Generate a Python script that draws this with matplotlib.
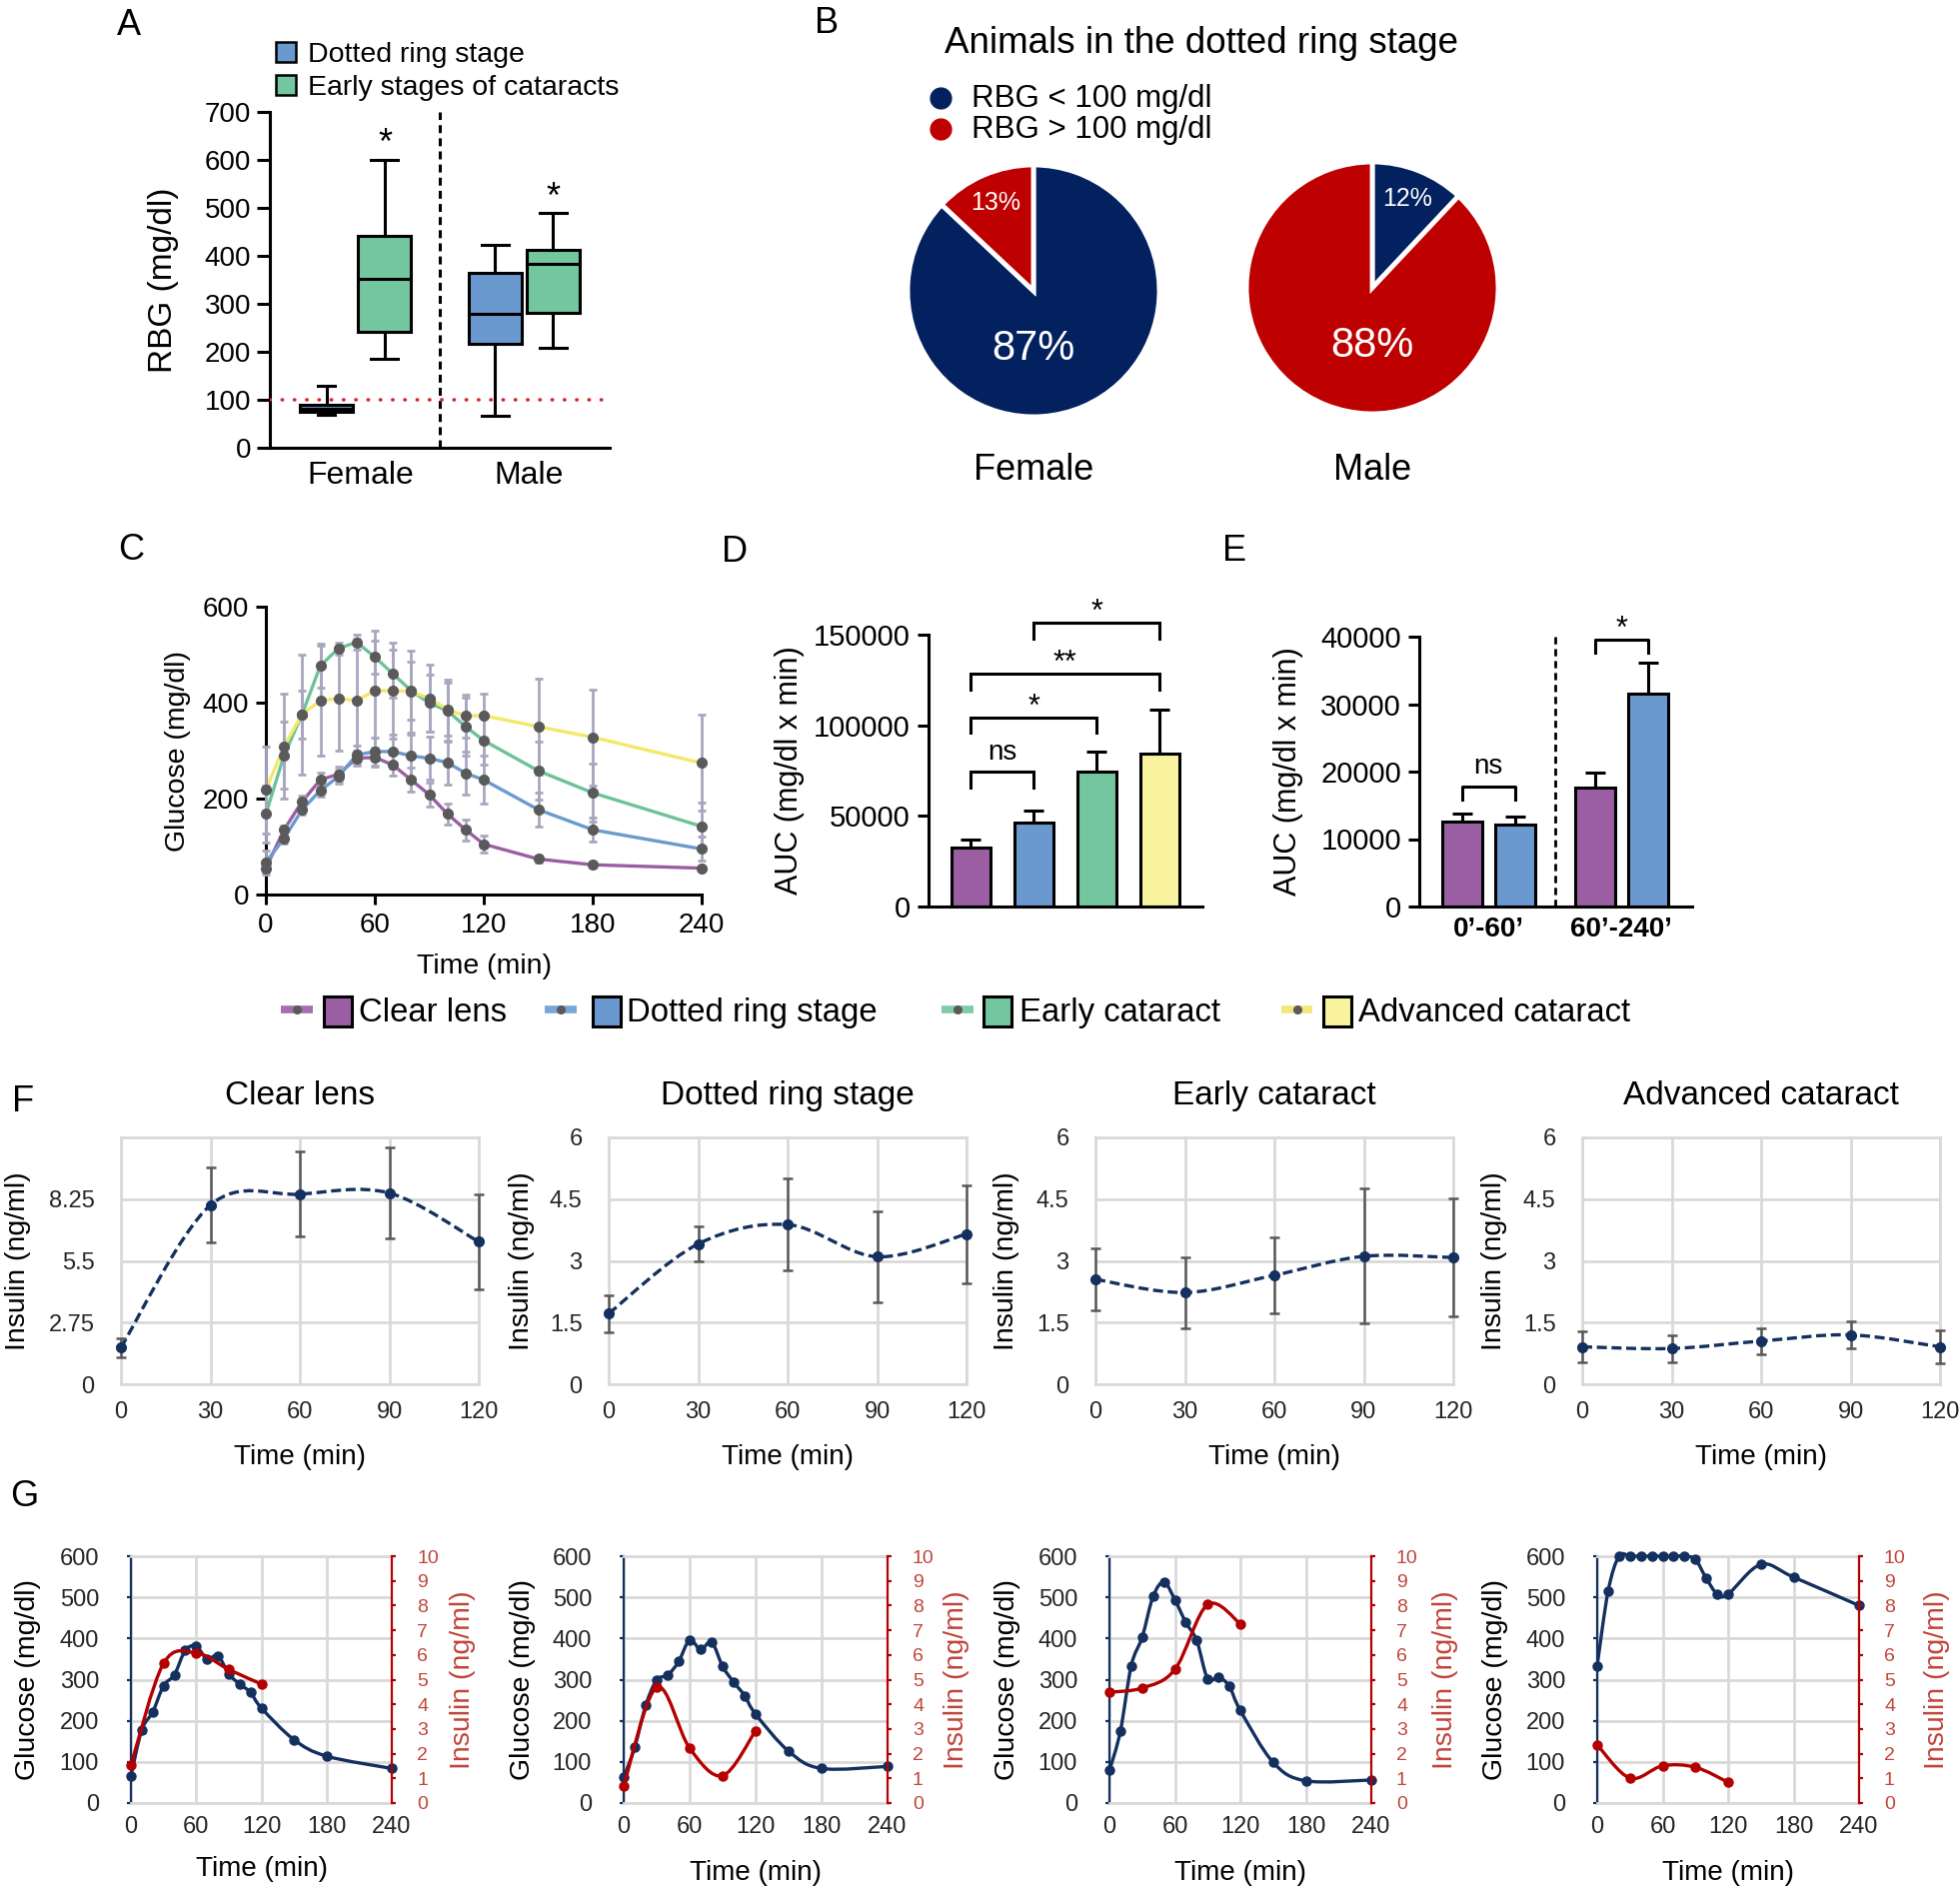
import numpy as np
import matplotlib
matplotlib.use('Agg')
import matplotlib.pyplot as plt
from matplotlib.path import Path
from matplotlib.patches import PathPatch, Rectangle

plt.rcParams['font.family'] = ['Liberation Sans', 'DejaVu Sans']

# ======================= DATA =======================
# Panel A (box order: Female-dotted, Female-early, Male-dotted, Male-early)
a_groups = ['Female', 'Male']
a_stages = ['Dotted ring stage', 'Early stages of cataracts']
a_whislo = [68, 185, 67, 208]
a_q1 = [75, 241, 216, 281]
a_med = [81, 352, 279, 383]
a_q3 = [89, 442, 364, 412]
a_whishi = [130, 600, 423, 489]
a_sig = ['', '*', '', '*']
a_threshold = 100
a_yticks = [0, 100, 200, 300, 400, 500, 600, 700]

# Panel B
b_title = 'Animals in the dotted ring stage'
b_categories = ['RBG < 100 mg/dl', 'RBG > 100 mg/dl']
b_sexes = ['Female', 'Male']
b_female = [87, 13]
b_male = [12, 88]

# Panel C
c_groups = ['Clear lens', 'Dotted ring stage', 'Early cataract', 'Advanced cataract']
c_time = [0, 10, 20, 30, 40, 50, 60, 70, 80, 90, 100, 110, 120, 150, 180, 240]
c_clear = [55, 135, 194, 239, 251, 284, 286, 270, 239, 208, 168, 135, 105, 74, 62, 55]
c_clear_err = [10, 8, 12, 15, 15, 15, 20, 22, 25, 25, 22, 22, 18, 8, 6, 5]
c_dotted = [67, 117, 177, 217, 246, 291, 298, 298, 289, 284, 275, 253, 239, 177, 135, 95]
c_dotted_err = [25, 10, 10, 12, 15, 20, 30, 35, 45, 45, 45, 45, 50, 35, 25, 25]
c_early = [168, 290, 376, 477, 513, 526, 495, 460, 425, 399, 383, 350, 321, 258, 212, 142]
c_early_err = [60, 70, 50, 45, 12, 15, 35, 50, 60, 60, 65, 60, 50, 60, 60, 50]
c_adv = [218, 309, 376, 404, 409, 404, 425, 425, 423, 409, 386, 372, 373, 350, 328, 274]
c_adv_err = [90, 110, 125, 115, 110, 130, 125, 100, 85, 70, 55, 45, 45, 100, 100, 100]
c_xticks = [0, 60, 120, 180, 240]
c_yticks = [0, 200, 400, 600]

# Panel D
d_auc = [32500, 46300, 74700, 84600]
d_err = [4600, 6400, 11000, 24100]
d_comparisons = [(0, 1, 'ns'), (0, 2, '*'), (0, 3, '**'), (1, 3, '*')]
d_bracket_y = [74400, 104500, 128500, 156800]
d_yticks = [0, 50000, 100000, 150000]

# Panel E
e_periods = ['0\u2019-60\u2019', '60\u2019-240\u2019']
e_clear = [12660, 17680]
e_clear_err = [1140, 2120]
e_dotted = [12170, 31530]
e_dotted_err = [1130, 4630]
e_sig = ['ns', '*']
e_bracket_y = [17830, 39600]
e_yticks = [0, 10000, 20000, 30000, 40000]

# Panel F (insulin, ng/ml)
f_time = [0, 30, 60, 90, 120]
f_clear = [1.64, 7.98, 8.47, 8.52, 6.35]
f_clear_err = [0.43, 1.67, 1.90, 2.03, 2.13]
f_dotted = [1.72, 3.41, 3.88, 3.10, 3.65]
f_dotted_err = [0.45, 0.43, 1.12, 1.10, 1.19]
f_early = [2.55, 2.23, 2.65, 3.11, 3.08]
f_early_err = [0.76, 0.86, 0.93, 1.64, 1.44]
f_adv = [0.91, 0.87, 1.05, 1.20, 0.91]
f_adv_err = [0.38, 0.33, 0.31, 0.33, 0.39]
f_ytop = [11, 6, 6, 6]
f_yticks = [[0, 2.75, 5.5, 8.25], [0, 1.5, 3, 4.5, 6], [0, 1.5, 3, 4.5, 6], [0, 1.5, 3, 4.5, 6]]
f_yticklabels = [['0', '2.75', '5.5', '8.25'], ['0', '1.5', '3', '4.5', '6'],
                 ['0', '1.5', '3', '4.5', '6'], ['0', '1.5', '3', '4.5', '6']]
f_xticks = [0, 30, 60, 90, 120]

# Panel G (single animals: glucose mg/dl and insulin ng/ml)
g_time = [0, 10, 20, 30, 40, 50, 60, 70, 80, 90, 100, 110, 120, 150, 180, 240]
g_ins_time = [0, 30, 60, 90, 120]
g1_glu = [66, 178, 221, 285, 312, 371, 381, 350, 358, 314, 289, 269, 231, 154, 114, 84]
g1_ins = [1.54, 5.66, 6.08, 5.41, 4.82]
g2_glu = [62, 135, 237, 299, 311, 344, 396, 373, 391, 332, 294, 261, 216, 126, 84, 89]
g2_ins = [0.70, 4.69, 2.22, 1.11, 2.93]
g3_glu = [79, 174, 334, 403, 502, 537, 494, 439, 395, 302, 306, 283, 225, 99, 54, 56]
g3_ins = [4.49, 4.66, 5.41, 8.04, 7.26]
g4_glu = [334, 515, 600, 600, 600, 600, 600, 600, 600, 592, 546, 508, 508, 580, 549, 480]
g4_ins = [2.36, 1.01, 1.51, 1.45, 0.84]
g_xticks = [0, 60, 120, 180, 240]
g_yticks = [0, 100, 200, 300, 400, 500, 600]
g_y2ticks = list(range(0, 11))

# ======================= STYLE =======================
PURPLE = '#9B5EA3'
BLUE = '#6A99D0'
GREEN = '#74C69F'
YELLOW_BAR = '#FAF3A0'
YELLOW_LINE = '#F3E86A'
NAVY_PIE = '#03215E'
RED_PIE = '#BE0000'
NAVY = '#14305F'
DRED = '#B40000'
LRED = '#C2453A'
GRID = '#D9D9D9'
ERRGRAY = '#A8A7BF'

W, H = 1961, 1888
fig = plt.figure(figsize=(W / 100, H / 100), dpi=100)


def add_ax(l, t, r, b, **kw):
    return fig.add_axes([l / W, 1 - b / H, (r - l) / W, (b - t) / H], **kw)


def prism(ax, lw=2.2):
    for s in ['top', 'right']:
        ax.spines[s].set_visible(False)
    for s in ['left', 'bottom']:
        ax.spines[s].set_linewidth(lw)


def smooth_path(x, y):
    p = np.column_stack([np.asarray(x, float), np.asarray(y, float)])
    n = len(p)
    verts = [p[0]]
    codes = [Path.MOVETO]
    for i in range(n - 1):
        p0 = p[i - 1] if i > 0 else p[i]
        p3 = p[i + 2] if i + 2 < n else p[i + 1]
        c1 = p[i] + (p[i + 1] - p0) / 6.0
        c2 = p[i + 1] - (p3 - p[i]) / 6.0
        verts += [c1, c2, p[i + 1]]
        codes += [Path.CURVE4] * 3
    return Path(verts, codes)


# ======================= PANEL A =======================
axA = add_ax(270, 112, 610, 448)
prism(axA)
offs = [-0.173, 0.173]
a_pos = [g + 1 + o for g in range(len(a_groups)) for o in offs]
stats = [dict(med=m, q1=q1, q3=q3, whislo=lo, whishi=hi, fliers=[])
         for m, q1, q3, lo, hi in zip(a_med, a_q1, a_q3, a_whislo, a_whishi)]
bp = axA.bxp(stats, positions=a_pos, widths=0.315, capwidths=[0.1, 0.16, 0.16, 0.16],
             patch_artist=True, showfliers=False, manage_ticks=False,
             boxprops=dict(linewidth=2.2, edgecolor='black'),
             whiskerprops=dict(linewidth=2.2, color='black'),
             capprops=dict(linewidth=2.2, color='black'),
             medianprops=dict(linewidth=2.2, color='black'), zorder=3)
for patch, c in zip(bp['boxes'], [BLUE, GREEN, BLUE, GREEN]):
    patch.set_facecolor(c)
axA.axhline(a_threshold, color='#D9262E', lw=2.6, ls=(0, (0.1, 3.3)),
            dash_capstyle='round', zorder=4)
axA.axvline(1.5, color='black', lw=2.2, ls=(0, (2.6, 1.7)), zorder=2)
for p, s, hi in zip(a_pos, a_sig, a_whishi):
    if s:
        axA.annotate(s, xy=(p, hi), xytext=(0, 4), textcoords='offset points',
                     ha='center', va='baseline', fontsize=26)
axA.set_xlim(0.49, 2.51)
axA.set_ylim(0, 700)
axA.set_yticks(a_yticks)
axA.set_xticks([1.03, 2.03])
axA.set_xticklabels(a_groups)
axA.tick_params(axis='x', length=0, labelsize=23, pad=9)
axA.tick_params(axis='y', length=9.5, width=2.2, labelsize=20, pad=4)
axA.set_ylabel('RBG (mg/dl)', fontsize=24)
axA.yaxis.set_label_coords(-0.268, 0.5)

# ======================= PANEL B =======================
axBf = add_ax(908, 165, 1160, 417)
axBm = add_ax(1247, 162, 1499, 414)
for ax, vals in zip([axBf, axBm], [b_female, b_male]):
    ax.pie(vals, colors=[NAVY_PIE, RED_PIE], startangle=90, counterclock=False,
           radius=1, wedgeprops=dict(edgecolor='white', linewidth=3.5))
    ax.set_xlim(-1, 1)
    ax.set_ylim(-1, 1)
    ax.set_aspect('equal')
    cum = np.cumsum([0] + vals)
    for k, v in enumerate(vals):
        if v < 50:
            mid = np.deg2rad(90 - (cum[k] + v / 2) * 3.6)
            ax.text(0.76 * np.cos(mid), 0.76 * np.sin(mid), f'{v}%', color='white',
                    ha='center', va='center', fontsize=18)
        else:
            ax.text(0, -0.46, f'{v}%', color='white', ha='center', va='center',
                    fontsize=30)

# ======================= PANEL C =======================
axC = add_ax(266, 607, 702, 895)
prism(axC)
c_series = [(c_clear, c_clear_err, PURPLE), (c_dotted, c_dotted_err, '#6A9ACF'),
            (c_early, c_early_err, '#6DC297'), (c_adv, c_adv_err, YELLOW_LINE)]
for vals, err, col in c_series:
    axC.plot(c_time, vals, color=col, lw=2.4, zorder=2, clip_on=False)
for vals, err, col in c_series:
    eb = axC.errorbar(c_time, vals, yerr=err, fmt='none', ecolor=ERRGRAY,
                      elinewidth=2.0, capsize=3, capthick=2.0, zorder=3)
    for a in list(eb.lines[1]) + list(eb.lines[2]):
        a.set_clip_on(False)
for vals, err, col in c_series:
    axC.plot(c_time, vals, 'o', color='#5A5A5A', ms=7, zorder=4, clip_on=False)
axC.set_xlim(0, 240)
axC.set_ylim(0, 600)
axC.set_xticks(c_xticks)
axC.set_yticks(c_yticks)
axC.tick_params(length=7, width=2.2, labelsize=20)
axC.tick_params(axis='x', pad=6)
axC.tick_params(axis='y', pad=5)
axC.set_xlabel('Time (min)', fontsize=20.5)
axC.set_ylabel('Glucose (mg/dl)', fontsize=20.5)
axC.xaxis.set_label_coords(0.5, -0.205)
axC.yaxis.set_label_coords(-0.172, 0.5)

# ======================= PANEL D =======================
axD = add_ax(929, 635, 1203, 907)
prism(axD)
d_x = np.arange(len(d_auc))
axD.bar(d_x, d_auc, width=0.62, color=[PURPLE, BLUE, GREEN, YELLOW_BAR],
        edgecolor='black', linewidth=2.2, zorder=2)
axD.errorbar(d_x, d_auc, yerr=[np.zeros(len(d_err)), d_err], fmt='none', ecolor='black',
             elinewidth=2.2, capsize=7.5, capthick=2.2, zorder=1)
leg = 8800
for (i, j, s), hy in zip(d_comparisons, d_bracket_y):
    axD.plot([i, i, j, j], [hy - leg, hy, hy, hy - leg], color='black', lw=2.2,
             clip_on=False, solid_joinstyle='miter')
    off = 9 if s == 'ns' else 1.5
    axD.annotate(s, xy=((i + j) / 2, hy), xytext=(0, off), textcoords='offset points',
                 ha='center', va='baseline', fontsize=20 if s == 'ns' else 22,
                 annotation_clip=False)
axD.set_xlim(-0.667, 3.68)
axD.set_ylim(0, 150000)
axD.set_xticks([])
axD.set_yticks(d_yticks)
axD.set_yticklabels([str(v) for v in d_yticks])
axD.tick_params(axis='y', length=8, width=2.2, labelsize=21, pad=5)
axD.set_ylabel('AUC (mg/dl x min)', fontsize=22)
axD.yaxis.set_label_coords(-0.452, 0.5)

# ======================= PANEL E =======================
axE = add_ax(1420, 637, 1693, 907)
prism(axE)
e_x = np.arange(len(e_periods))
axE.bar(e_x - 0.2, e_clear, width=0.30, color=PURPLE, edgecolor='black', lw=2.2, zorder=2)
axE.bar(e_x + 0.2, e_dotted, width=0.30, color=BLUE, edgecolor='black', lw=2.2, zorder=2)
axE.errorbar(e_x - 0.2, e_clear, yerr=[np.zeros(2), e_clear_err], fmt='none',
             ecolor='black', elinewidth=2.2, capsize=7.5, capthick=2.2, zorder=1)
axE.errorbar(e_x + 0.2, e_dotted, yerr=[np.zeros(2), e_dotted_err], fmt='none',
             ecolor='black', elinewidth=2.2, capsize=7.5, capthick=2.2, zorder=1)
eleg = 2000
for g, s, hy in zip(e_x, e_sig, e_bracket_y):
    axE.plot([g - 0.2, g - 0.2, g + 0.2, g + 0.2], [hy - eleg, hy, hy, hy - eleg],
             color='black', lw=2.2, clip_on=False)
    off = 9 if s == 'ns' else 1.5
    axE.annotate(s, xy=(g, hy), xytext=(0, off), textcoords='offset points',
                 ha='center', va='baseline', fontsize=20 if s == 'ns' else 22,
                 annotation_clip=False)
axE.axvline(0.5, color='black', lw=2.0, ls=(0, (2.6, 1.7)))
axE.set_xlim(-0.52, 1.53)
axE.set_ylim(0, 40000)
axE.set_xticks(e_x)
axE.set_xticklabels(e_periods, fontweight='bold')
axE.set_yticks(e_yticks)
axE.set_yticklabels([str(v) for v in e_yticks])
axE.tick_params(axis='x', length=0, labelsize=20, pad=7)
axE.tick_params(axis='y', length=8, width=2.2, labelsize=21, pad=5)
axE.set_ylabel('AUC (mg/dl x min)', fontsize=22)
axE.yaxis.set_label_coords(-0.425, 0.5)

# ======================= PANEL F =======================
f_lefts = [121, 609, 1096, 1583]
f_means = [f_clear, f_dotted, f_early, f_adv]
f_errs = [f_clear_err, f_dotted_err, f_early_err, f_adv_err]
f_ylab_x = [-0.251, -0.207, -0.212, -0.209]
for k in range(4):
    ax = add_ax(f_lefts[k], 1138, f_lefts[k] + 358, 1385)
    for s in ax.spines.values():
        s.set_color(GRID)
        s.set_linewidth(2)
    ax.grid(True, color=GRID, lw=2)
    ax.set_axisbelow(True)
    ax.set_xlim(0, 120)
    ax.set_ylim(0, f_ytop[k])
    ax.set_xticks(f_xticks)
    ax.set_yticks(f_yticks[k])
    ax.set_yticklabels(f_yticklabels[k])
    ax.tick_params(length=0, labelsize=17, labelcolor='#262626')
    ax.tick_params(axis='x', pad=12)
    ax.tick_params(axis='y', pad=19)
    ax.add_patch(PathPatch(smooth_path(f_time, f_means[k]), fill=False, edgecolor=NAVY,
                           lw=2.4, linestyle=(0, (3.0, 1.4)), zorder=3, clip_on=False))
    eb = ax.errorbar(f_time, f_means[k], yerr=f_errs[k], fmt='none', ecolor='#595959',
                     elinewidth=1.8, capsize=3.5, capthick=1.8, zorder=4)
    for a in list(eb.lines[1]) + list(eb.lines[2]):
        a.set_clip_on(False)
    ax.plot(f_time, f_means[k], 'o', color=NAVY, ms=7, zorder=5, clip_on=False)
    ax.text(0.5, 1 + (1138 - 1105) / 247, c_groups[k], transform=ax.transAxes,
            ha='center', va='baseline', fontsize=24)
    ax.set_xlabel('Time (min)', fontsize=20)
    ax.set_ylabel('Insulin (ng/ml)', fontsize=20.5)
    ax.xaxis.set_label_coords(0.5, -0.243)
    ax.yaxis.set_label_coords(f_ylab_x[k], 0.5)

# ======================= PANEL G =======================
g_boxes = [(131, 392), (624, 888), (1110, 1372), (1598, 1860)]
g_glu = [g1_glu, g2_glu, g3_glu, g4_glu]
g_ins = [g1_ins, g2_ins, g3_ins, g4_ins]
g_ylab_l = [-0.345, -0.333, -0.34, -0.34]
g_ylab_r = [1.222, 1.212, 1.233, 1.248]
for k in range(4):
    l, r = g_boxes[k]
    ax = add_ax(l, 1557, r, 1804)
    ax2 = ax.twinx()
    for s in ['top', 'bottom']:
        ax.spines[s].set_color(GRID)
        ax.spines[s].set_linewidth(2)
    ax.spines['right'].set_visible(False)
    ax.spines['left'].set_color(NAVY)
    ax.spines['left'].set_linewidth(1.6)
    for s in ['top', 'bottom', 'left']:
        ax2.spines[s].set_visible(False)
    ax2.spines['right'].set_color(DRED)
    ax2.spines['right'].set_linewidth(1.6)
    ax.grid(True, color=GRID, lw=2)
    ax.set_axisbelow(True)
    ax.set_xlim(0, 240)
    ax.set_ylim(0, 600)
    ax2.set_ylim(0, 10)
    ax.set_xticks(g_xticks)
    ax.set_yticks(g_yticks)
    ax2.set_yticks(g_y2ticks)
    ax.tick_params(axis='x', length=0, labelsize=17, labelcolor='#262626', pad=9)
    ax.tick_params(axis='y', length=3, width=1.6, color=NAVY, labelsize=17,
                   labelcolor='#262626', pad=20)
    ax2.tick_params(axis='y', length=3, width=1.6, color=DRED, labelsize=14,
                    labelcolor=LRED, pad=15)
    ax.add_patch(PathPatch(smooth_path(g_time, g_glu[k]), fill=False, edgecolor=NAVY,
                           lw=2.4, zorder=3, clip_on=False))
    ax.plot(g_time, g_glu[k], 'o', color=NAVY, ms=6.5, zorder=4, clip_on=False)
    ax2.add_patch(PathPatch(smooth_path(g_ins_time, g_ins[k]), fill=False, edgecolor=DRED,
                            lw=2.4, zorder=3, clip_on=False))
    ax2.plot(g_ins_time, g_ins[k], 'o', color=DRED, ms=6.5, zorder=4, clip_on=False)
    ax.set_xlabel('Time (min)', fontsize=20)
    ax.set_ylabel('Glucose (mg/dl)', fontsize=20.5)
    ax2.set_ylabel('Insulin (ng/ml)', fontsize=20.5, color=LRED)
    ax.xaxis.set_label_coords(0.5, -0.215 if k == 0 else -0.232)
    ax.yaxis.set_label_coords(g_ylab_l[k], 0.5)
    ax2.yaxis.set_label_coords(g_ylab_r[k], 0.5)

# ======================= OVERLAY: legends, labels =======================
ov = fig.add_axes([0, 0, 1, 1], zorder=10)
ov.set_xlim(0, W)
ov.set_ylim(H, 0)
ov.axis('off')
ov.patch.set_visible(False)

# panel letters
for letter, x, y in [('A', 117, 35), ('B', 815, 33), ('C', 118, 560), ('D', 722, 562),
                     ('E', 1223, 561), ('F', 12, 1112), ('G', 10, 1507)]:
    ov.text(x, y, letter, fontsize=26, ha='left', va='baseline')

# A legend
for (y0, yb), lab, col in zip([(42, 62), (75, 95)], a_stages, [BLUE, GREEN]):
    ov.add_patch(Rectangle((276, y0), 20, 20, facecolor=col, edgecolor='black', lw=1.8))
    ov.text(308, yb, lab, fontsize=20.5, ha='left', va='baseline')

# B title, legend, sex labels
ov.text(1202, 53, b_title, fontsize=26.5, ha='center', va='baseline')
for (yc, yb), lab, col in zip([(98, 107), (129, 138)], b_categories, [NAVY_PIE, RED_PIE]):
    ov.plot([941], [yc], 'o', ms=15, color=col)
    ov.text(972, yb, lab, fontsize=22.5, ha='left', va='baseline')
for lab, x in zip(b_sexes, [1034, 1373]):
    ov.text(x, 480, lab, fontsize=26, ha='center', va='baseline')

# C/D/E shared legend
leg_pos = [(281, 313, 324, 359), (545, 577, 593, 627), (942, 974, 984, 1020),
           (1282, 1313, 1324, 1359)]
leg_line_cols = ['#A46FAE', '#79A6D6', '#7FCBA5', '#F2E77A']
leg_fill_cols = [PURPLE, BLUE, GREEN, YELLOW_BAR]
for (x0, x1, xp, xt), lc, fc, lab in zip(leg_pos, leg_line_cols, leg_fill_cols, c_groups):
    ov.plot([x0, x1], [1010, 1010], color=lc, lw=5.5, solid_capstyle='butt')
    ov.plot([(x0 + x1) / 2], [1010], 'o', color='#5A5A5A', ms=5.5)
    ov.add_patch(Rectangle((xp, 997), 28, 30, facecolor=fc, edgecolor='black', lw=2.2))
    ov.text(xt, 1022, lab, fontsize=23.7, ha='left', va='baseline')

fig.savefig('out.png', dpi=100)
